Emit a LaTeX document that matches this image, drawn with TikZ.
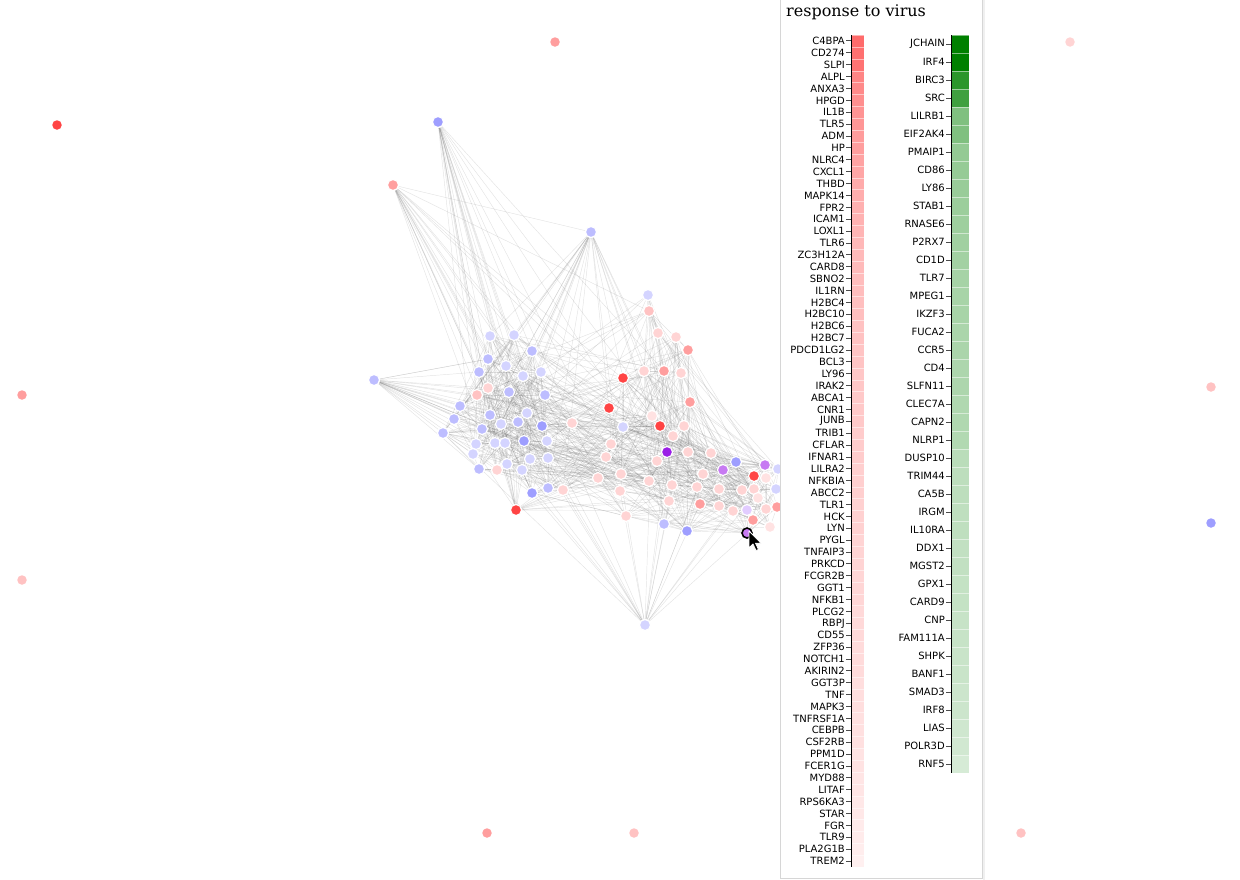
\documentclass[tikz,border=0pt]{standalone}
\usepackage{fontspec}
\newfontfamily\labfont{DejaVu Sans}
\newfontfamily\headfont{DejaVu Serif}
\usepackage{tikz}
\usetikzlibrary{backgrounds}

\definecolor{nred}{HTML}{FF4444}
\definecolor{npkA}{HTML}{FF9E9E}
\definecolor{npkB}{HTML}{FFC2C2}
\definecolor{npkC}{HTML}{FFD4D4}
\definecolor{npkF}{HTML}{FFE2E2}
\definecolor{nblA}{HTML}{9E9EFF}
\definecolor{nblB}{HTML}{BDBDFF}
\definecolor{nblC}{HTML}{D4D4FF}
\definecolor{npuA}{HTML}{9A1EE6}
\definecolor{npuB}{HTML}{C77AF2}
\definecolor{nlav}{HTML}{E2CCFF}
\definecolor{gdark}{HTML}{008000}

%% genes of the network: x/y/colour (px, y down)
%% 1-36 left cluster, 37-58 centre, 59-67 upper arm, 68-89 right
\def\netlist{%
  490/336/nblC, 514/335/nblC, 532/351/nblB, 488/359/nblB, 506/366/nblC,
  479/372/nblB, 523/376/nblC, 541/372/nblC, 488/388/npkC, 477/395/npkB,
  509/392/nblB, 545/395/nblB, 460/406/nblB, 454/419/nblB, 490/415/nblB,
  527/413/nblC, 443/433/nblB, 482/429/nblB, 501/424/nblC, 518/422/nblB,
  542/426/nblA, 495/443/nblC, 505/443/nblC, 524/441/nblA, 547/441/nblC,
  476/444/nblC, 473/454/nblC, 530/459/nblC, 548/458/nblC, 507/464/nblC,
  479/469/nblB, 497/470/npkC, 522/470/nblC, 532/493/nblA, 548/488/nblB,
  563/490/npkC,
  609/408/nred, 572/423/npkC, 623/427/nblC, 652/416/npkF, 660/426/nred,
  673/436/npkC, 611/444/npkC, 667/452/npuA, 606/457/npkC, 657/461/npkC,
  621/474/npkC, 598/478/npkC, 649/481/npkC, 672/485/npkC, 620/491/npkC,
  669/501/npkC, 626/516/npkC, 664/524/nblB, 684/426/npkC, 688/452/npkC,
  711/453/npkC, 703/474/npkC,
  649/311/npkB, 658/333/npkC, 676/337/npkC, 688/350/npkA, 623/378/nred,
  644/371/npkC, 664/371/npkA, 681/373/npkC, 690/402/npkA,
  736/462/nblA, 765/465/npuB, 778/469/nblC, 723/470/npuB, 754/476/nred,
  766/478/npkF, 697/487/npkC, 719/489/npkC, 742/490/npkC, 754/489/npkC,
  776/489/nblC, 758/498/npkF, 700/504/npkA, 719/506/npkC, 733/511/npkC,
  747/510/nlav, 766/509/npkC, 777/507/npkA, 753/520/npkA, 770/527/npkF,
  687/531/nblA, 747/533/npuB}

%% hub genes: x/y/colour/p(left)/p(centre)/p(arm)/p(right)
\def\hublist{%
  438/122/nblA/.50/.10/.06/.03, 393/185/npkA/.35/.15/.05/.03,
  591/232/nblB/.45/.30/.25/.05, 374/380/nblB/.50/.30/.05/.05,
  516/510/nred/.45/.35/.05/.10, 645/625/nblC/.30/.35/.05/.30,
  648/295/nblC/.08/.10/.70/.03}

\begin{document}
\begin{tikzpicture}[x=1pt, y=-1pt,
  every node/.style={inner sep=0pt},
  vert/.style={circle, draw=white, line width=1.1pt, minimum size=11pt},
  dot/.style={circle, minimum size=9.5pt},
  link/.style={draw=black!55, line width=0.45pt, opacity=0.2},
  lab/.style={font=\labfont\fontsize{10}{12}\selectfont, anchor=east},
  tick/.style={draw=black!70, line width=0.9pt},
]
\useasboundingbox (0,0) rectangle (1240,879);

%% Isolated genes
\foreach \x/\y/\c [count=\i] in {57/125/nred, 555/42/npkA, 1070/42/npkC,
    22/395/npkA, 1211/387/npkB, 22/580/npkB, 1211/523/nblA, 487/833/npkA,
    634/833/npkB, 1021/833/npkB}
  \node[dot, fill=\c] (o\i) at (\x,\y) {};

%% Network genes
\foreach \x/\y/\c [count=\i] in \netlist {
  \node[vert, fill=\c] (v\i) at (\x,\y) {};
  \expandafter\xdef\csname vx\i\endcsname{\x}
  \expandafter\xdef\csname vy\i\endcsname{\y}
}
\foreach \x/\y/\c/\pa/\pb/\pc/\pd [count=\k] in \hublist
  \node[vert, fill=\c] (h\k) at (\x,\y) {};
\node[circle, draw=black, line width=1.6pt, minimum size=10pt] (sel) at (v89) {};

%% Interactions (behind the genes)
\begin{pgfonlayer}{background}
\pgfmathsetseed{7}
\foreach \i in {1,...,88} {
  \pgfmathtruncatemacro{\ii}{\i+1}
  \foreach \j in {\ii,...,89} {
    \edef\xa{\csname vx\i\endcsname}\edef\ya{\csname vy\i\endcsname}
    \edef\xb{\csname vx\j\endcsname}\edef\yb{\csname vy\j\endcsname}
    \pgfmathsetmacro{\dd}{veclen(\xa-\xb,\ya-\yb)}
    \pgfmathtruncatemacro{\hit}{rnd < 0.85*exp(-\dd/65)+0.035}
    \ifnum\hit=1 \draw[link] (v\i) -- (v\j); \fi
  }
}
\foreach \x/\y/\c/\pa/\pb/\pc/\pd [count=\k] in \hublist {
  \foreach \j in {1,...,89} {
    \ifnum\j<37 \let\pp\pa\else\ifnum\j<59 \let\pp\pb\else
      \ifnum\j<68 \let\pp\pc\else\let\pp\pd\fi\fi\fi
    \pgfmathtruncatemacro{\hit}{rnd < \pp}
    \ifnum\hit=1 \draw[link] (h\k) -- (v\j); \fi
  }
}
\draw[link] (h2) -- (h3);
\end{pgfonlayer}

%% Legend panel
\draw[black!6, line width=2pt] (984,0) -- (984,880);
\draw[draw=black!16, fill=white] (780,-2) rectangle (982,878);
\node[font=\headfont\fontsize{16}{19}\selectfont, anchor=base west] (title)
  at (786,16) {response to virus};

%% Up-regulated column
\foreach \g/\p [count=\i] in {C4BPA/58, CD274/56, SLPI/55, ALPL/48, ANXA3/46,
    HPGD/44, IL1B/42, TLR5/41, ADM/39, HP/38, NLRC4/36, CXCL1/35, THBD/33,
    MAPK14/32, FPR2/31, ICAM1/30, LOXL1/29, TLR6/28, ZC3H12A/27, CARD8/27,
    SBNO2/26, IL1RN/26, H2BC4/25, H2BC10/25, H2BC6/24, H2BC7/24,
    PDCD1LG2/23, BCL3/23, LY96/22, IRAK2/22, ABCA1/21, CNR1/21, JUNB/21,
    TRIB1/20, CFLAR/20, IFNAR1/20, LILRA2/19, NFKBIA/19, ABCC2/19, TLR1/18,
    HCK/18, LYN/18, PYGL/17, TNFAIP3/17, PRKCD/17, FCGR2B/16, GGT1/16,
    NFKB1/16, PLCG2/15, RBPJ/15, CD55/15, ZFP36/14, NOTCH1/14, AKIRIN2/14,
    GGT3P/13, TNF/13, MAPK3/13, TNFRSF1A/12, CEBPB/12, CSF2RB/12, PPM1D/11,
    FCER1G/11, MYD88/10, LITAF/10, RPS6KA3/9, STAR/9, FGR/8, TLR9/8,
    PLA2G1B/7, TREM2/6} {
  \pgfmathsetmacro{\ya}{35+(\i-1)*11.886}
  \pgfmathsetmacro{\ym}{\ya+5.943}
  \fill[red!\p] (851,\ya) rectangle (864,\ya+11.886);
  \draw[white, line width=0.2pt, opacity=0.5] (851,\ya) -- (864,\ya);
  \node[lab] (up\i) at (845,\ym) {\g};
  \draw[tick] (846,\ym) -- (851,\ym);
}
\draw[black, line width=1pt] (851,35) -- (851,867);

%% Down-regulated column
\foreach \g/\p [count=\i] in {JCHAIN/100, IRF4/100, BIRC3/83, SRC/75,
    LILRB1/50, EIF2AK4/50, PMAIP1/42, CD86/41, LY86/40, STAB1/39, RNASE6/38,
    P2RX7/37, CD1D/36, TLR7/35, MPEG1/34, IKZF3/34, FUCA2/33, CCR5/33,
    CD4/32, SLFN11/32, CLEC7A/31, CAPN2/31, NLRP1/30, DUSP10/27, TRIM44/26,
    CA5B/26, IRGM/25, IL10RA/25, DDX1/24, MGST2/24, GPX1/23, CARD9/23,
    CNP/22, FAM111A/22, SHPK/21, BANF1/21, SMAD3/20, IRF8/20, LIAS/19,
    POLR3D/18, RNF5/16} {
  \pgfmathsetmacro{\ya}{35+(\i-1)*18}
  \pgfmathsetmacro{\ym}{\ya+9}
  \fill[gdark!\p] (951,\ya) rectangle (969,\ya+18);
  \draw[white, line width=0.2pt, opacity=0.5] (951,\ya) -- (969,\ya);
  \node[lab] (dn\i) at (945,\ym) {\g};
  \draw[tick] (946,\ym) -- (951,\ym);
}
\draw[black, line width=1pt] (951,35) -- (951,773);

%% Mouse pointer
\draw[fill=black, draw=white, line width=0.8pt, line join=round]
  (749,531) -- ++(0,17) -- ++(4,-4) -- ++(3,6.5) -- ++(2.5,-1)
  -- ++(-3,-6.3) -- ++(5.5,0) -- cycle;

\end{tikzpicture}
\end{document}
